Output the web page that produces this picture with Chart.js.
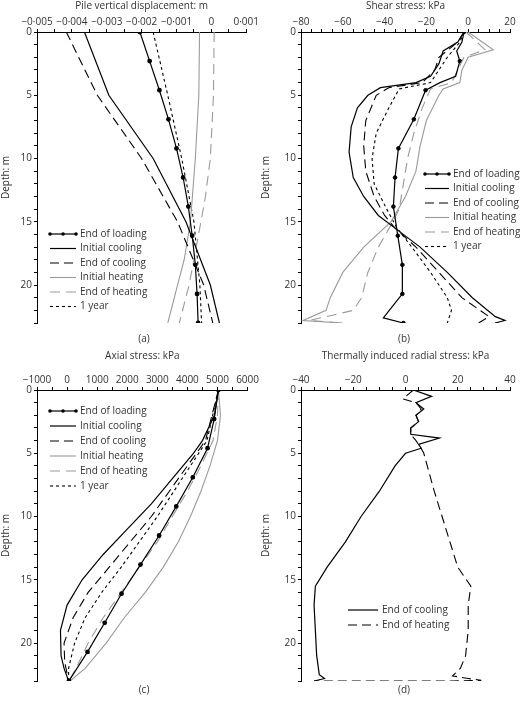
<!DOCTYPE html>
<html><head><meta charset="utf-8">
<script src="https://cdn.jsdelivr.net/npm/chart.js@4.4.1/dist/chart.umd.min.js"></script>
<style>
body{margin:0;background:#fff;width:520px;height:703px;position:relative;overflow:hidden}
.p{position:absolute;width:260px;height:350px}
</style></head><body>
<div class="p" style="left:0;top:0"><canvas id="ca"></canvas></div>
<div class="p" style="left:260px;top:0"><canvas id="cb"></canvas></div>
<div class="p" style="left:0;top:350px;height:353px"><canvas id="cc"></canvas></div>
<div class="p" style="left:260px;top:350px;height:353px"><canvas id="cd"></canvas></div>
<script>
// ---------- Data ----------
const seriesNames = ["End of loading","Initial cooling","End of cooling","Initial heating","End of heating","1 year"];
const markerDepths = [0,2.3,4.6,6.9,9.2,11.5,13.8,16.1,18.4,20.7,23];

// (a) Pile vertical displacement (m)
const aLoadX = [-0.00205,-0.00177,-0.00149,-0.00123,-0.00100,-0.00081,-0.00066,-0.00055,-0.00046,-0.00041,-0.00038];
const aCoolInitD = [0,5,10,15,20,23];
const aCoolInitX = [-0.00364,-0.00294,-0.00167,-0.00073,-0.00003,0.00023];
const aCoolEndD = [0,5,10,15,20,23];
const aCoolEndX = [-0.00416,-0.00327,-0.00200,-0.00097,-0.00022,0.00004];
const aHeatInitD = [0,5,10,15,18,20,23];
const aHeatInitX = [-0.00034,-0.00036,-0.00046,-0.00060,-0.00078,-0.00097,-0.00125];
const aHeatEndD = [0,5,10,13,15,18,20,23];
const aHeatEndX = [0.00008,0.00006,-0.00003,-0.00017,-0.00030,-0.00050,-0.00064,-0.00092];
const aYearD = [0,5,10,15,20,23];
const aYearX = [-0.00167,-0.00125,-0.00085,-0.00050,-0.00033,-0.00028];

// (b) Shear stress (kPa)
const bLoadD = [0,0.8,1.5,2.3,3.5,4.0,4.6,6.9,9.2,11.5,13.8,16.1,18.4,20.7,22.6,23];
const bLoadX = [-2,-3,-5.5,-4,-6,-13.5,-20.4,-26,-33.4,-35,-35.8,-33.7,-31.5,-31.5,-40.6,-31];
const bMarkX = [-2,-4,-20.4,-26,-33.4,-35,-35.8,-33.7,-31.5,-31.5,-31];
const bCoolInitD = [0,0.8,1.5,2.5,3.5,4.0,4.4,5,6,7.5,9.5,11.5,13,14.5,15.5,17,19,21,22.5,22.8,23];
const bCoolInitX = [-2,-5,-12,-14,-18,-25,-42,-48,-53,-56,-57,-55,-50,-43,-35,-23,-10,2,13,17.6,12.8];
const bCoolEndD = [0,0.8,2,3,4,4.4,5,7,9,11,13,14.5,15.5,17,19,21,22.5,23];
const bCoolEndX = [-2,-5,-14,-16,-22,-38,-44,-49,-50,-49,-45,-40,-35,-25,-14,-3,10,5];
const bYearD = [0,0.8,2,4,4.5,6,8,10,12,14,15.5,17,19,21,22,23];
const bYearX = [-2,-4,-10,-18,-33,-38,-44,-46,-45,-39,-34,-27,-18,-10,-8,-10];
const bHeatInitD = [0,1.4,2,3,4,4.5,5,7,9,11,13,15,17,19,21,22,22.8,23];
const bHeatInitX = [0,12,0,-3,-4,-12,-14,-20,-23,-25,-30,-37,-50,-60,-66,-68,-79,-60];
const bHeatEndD = [0,1.4,2,3,4,4.5,6,8,10,12,14,15,17,19,21,22,22.8,23];
const bHeatEndX = [-1,8,-2,-5,-8,-18,-22,-26,-29,-31,-33,-36,-43,-48,-51,-55,-76,-60];

// (c) Axial stress (kPa)
const cLoadX = [5030,4890,4670,4180,3630,3060,2440,1810,1250,680,60];
const cCoolInitD = [0,2,4,5,7,9,11,13,15,17,19,21,22,23];
const cCoolInitX = [5030,4900,4500,4200,3500,2800,2000,1200,500,0,-220,-200,-100,50];
const cCoolEndD = [0,4,6,8,10,12,14,16,18,20,21.5,23];
const cCoolEndX = [5030,4600,4000,3400,2800,2100,1400,700,200,-100,-80,50];
const cYearD = [0,4,6,8,10,12,14,16,18,20,22,23];
const cYearX = [5030,4650,4100,3550,3000,2400,1800,1150,600,250,50,50];
const cHeatInitD = [0,2,4,6,8,10,12,14,16,18,20,22,23];
const cHeatInitX = [5030,5100,5000,4750,4450,4100,3700,3200,2600,1900,1300,600,100];
const cHeatEndD = [0,2,4,6,8,10,12,14,16,18,20,22,23];
const cHeatEndX = [5030,5000,4850,4450,4000,3500,3000,2400,1800,1200,700,300,50];

// (d) Thermally induced radial stress (kPa)
const dNames = ["End of cooling","End of heating"];
const dCoolD = [0,0.5,1,1.5,2,2.5,3,3.5,3.8,4.3,4.6,5,6,8,10,12,14,15.5,17,19,21,22.5,22.8,23];
const dCoolX = [3,10,4,7,4,5,2,2,13,5,6,0,-4,-10,-17,-23,-30,-34.5,-35,-34.5,-34,-33,-31,-35];
const dHeatD = [0,0.7,1,1.5,2,2.5,3,3.5,4,4.6,5,8,10,12,14,15.5,17,19,21,22,22.6,22.8,22.95,23,23];
const dHeatX = [3,-1,4,6,4,5,2,2,4,6,7,11,14,17,20,25,24,24,23,21,18,24,29,18,-35];

// ---------- Helpers ----------
const pts=(d,x)=>d.map((v,i)=>({x:x[i],y:v}));
const BLK='#000', GRY='#9a9a9a';
const STY=[
 {c:BLK,dash:[],w:1.2,pr:1.8},
 {c:BLK,dash:[],w:1.2,pr:0},
 {c:BLK,dash:[9,5],w:1.1,pr:0},
 {c:GRY,dash:[],w:1.1,pr:0},
 {c:GRY,dash:[10,6],w:1.1,pr:0},
 {c:BLK,dash:[3,3],w:1.1,pr:0}];
function ds(name,data,s){return {label:name,data,showLine:true,borderColor:s.c,backgroundColor:s.c,borderWidth:s.w,borderDash:s.dash,pointRadius:s.pr,pointHoverRadius:0,tension:0};}
const FONT="'Open Sans', 'DejaVu Sans', sans-serif";
function fmt(v,dec){let s=Math.abs(v)<1e-12?'0':(dec?v.toFixed(dec):String(Math.round(v)));return s.replace('-','\u2212').replace('.','\u00b7');}

const legendPlugin={id:'lg',afterDraw(ch){
  const o=ch.options.plugins.lg; if(!o)return;
  const c=ch.ctx; c.save();
  c.font="10px "+FONT; c.textBaseline='middle';
  ch.data.datasets.filter(d=>d.label).forEach((d,i)=>{
    const y=o.y+i*o.dy;
    c.strokeStyle=d.borderColor;c.lineWidth=d.borderWidth;c.setLineDash(d.borderDash||[]);
    c.beginPath();c.moveTo(o.x,y);c.lineTo(o.x+o.len,y);c.stroke();
    c.setLineDash([]);
    if(o.marker&&i===0){c.fillStyle=d.borderColor;[0,0.5,1].forEach(f=>{c.beginPath();c.arc(o.x+f*o.len,y,1.8,0,7);c.fill();});}
    c.fillStyle='#333';c.fillText(d.label,o.x+o.len+4,y);
  });
  c.textAlign='center';c.fillStyle='#333';c.fillText(o.cap,o.capx,o.capy);
  c.restore();
}};

function make(id,datasets,xo,lg,yw,xh,pad){
  return new Chart(document.getElementById(id),{type:'scatter',data:{datasets},plugins:[legendPlugin],
   options:{responsive:true,maintainAspectRatio:false,animation:false,
    layout:{padding:pad},
    plugins:{legend:{display:false},tooltip:{enabled:false},lg},
    scales:{
     x:{type:'linear',position:'top',min:xo.min,max:xo.max,
        afterFit:s=>{s.height=xh;},
        afterBuildTicks:s=>{const t=[];for(let i=0;;i++){const v=xo.min+i*xo.minor;if(v>xo.max+1e-9)break;t.push({value:v});}s.ticks=t;},
        title:{display:true,text:xo.title,color:'#333',font:{family:FONT,size:10},padding:{top:0,bottom:1}},
        grid:{drawOnChartArea:false,drawTicks:true,tickLength:3,color:'#000'},
        border:{display:true,color:'#000',width:1},
        ticks:{autoSkip:false,maxRotation:0,color:'#333',font:{family:FONT,size:10},padding:1,
          callback:(v)=>{const k=Math.round((v-xo.min)/xo.minor);return k%xo.every===0?fmt(v,xo.dec):'';}}},
     y:{type:'linear',reverse:true,min:0,max:23,
        afterFit:s=>{s.width=yw;},
        afterBuildTicks:s=>{const t=[];for(let i=0;i<=23;i++)t.push({value:i});s.ticks=t;},
        title:{display:true,text:'Depth: m',color:'#333',font:{family:FONT,size:10},padding:0},
        grid:{drawOnChartArea:false,drawTicks:true,tickLength:3,color:'#000'},
        border:{display:true,color:'#000',width:1},
        ticks:{autoSkip:false,color:'#333',font:{family:FONT,size:10},padding:2,callback:v=>v%5===0?String(v):''}}
    }}});
}

// (a)
make('ca',[
 ds(seriesNames[0],pts(markerDepths,aLoadX),STY[0]),
 ds(seriesNames[1],pts(aCoolInitD,aCoolInitX),STY[1]),
 ds(seriesNames[2],pts(aCoolEndD,aCoolEndX),STY[2]),
 ds(seriesNames[3],pts(aHeatInitD,aHeatInitX),STY[3]),
 ds(seriesNames[4],pts(aHeatEndD,aHeatEndX),STY[4]),
 ds(seriesNames[5],pts(aYearD,aYearX),STY[5])],
 {min:-0.005,max:0.001,minor:0.0005,every:2,dec:3,title:'Pile vertical displacement: m'},
 {x:50,y:234,dy:14.5,len:26,marker:true,cap:'(a)',capx:144,capy:339},37,32,{left:0,right:10,top:0,bottom:27});
// (b)
make('cb',[
 ds(seriesNames[0],pts(bLoadD,bLoadX),{...STY[0],pr:0}),
 ds(seriesNames[1],pts(bCoolInitD,bCoolInitX),STY[1]),
 ds(seriesNames[2],pts(bCoolEndD,bCoolEndX),STY[2]),
 ds(seriesNames[3],pts(bHeatInitD,bHeatInitX),STY[3]),
 ds(seriesNames[4],pts(bHeatEndD,bHeatEndX),STY[4]),
 ds(seriesNames[5],pts(bYearD,bYearX),STY[5]),
 {label:'',data:pts(markerDepths,bMarkX),showLine:false,pointRadius:1.8,backgroundColor:BLK,borderColor:BLK,pointHoverRadius:0}],
 {min:-80,max:20,minor:5,every:4,dec:0,title:'Shear stress: kPa'},
 {x:165,y:174,dy:14.5,len:24,marker:true,cap:'(b)',capx:144,capy:339},41,32,{left:0,right:10,top:0,bottom:27});
// (c)
make('cc',[
 ds(seriesNames[0],pts(markerDepths,cLoadX),STY[0]),
 ds(seriesNames[1],pts(cCoolInitD,cCoolInitX),STY[1]),
 ds(seriesNames[2],pts(cCoolEndD,cCoolEndX),STY[2]),
 ds(seriesNames[3],pts(cHeatInitD,cHeatInitX),STY[3]),
 ds(seriesNames[4],pts(cHeatEndD,cHeatEndX),STY[4]),
 ds(seriesNames[5],pts(cYearD,cYearX),STY[5])],
 {min:-1000,max:6000,minor:500,every:2,dec:0,title:'Axial stress: kPa'},
 {x:50,y:61,dy:15,len:26,marker:true,cap:'(c)',capx:144,capy:340},37,40,{left:0,right:10,top:0,bottom:22});
// (d)
make('cd',[
 ds(dNames[0],pts(dCoolD,dCoolX),STY[1]),
 ds(dNames[1],pts(dHeatD,dHeatX),STY[2])],
 {min:-40,max:40,minor:5,every:4,dec:0,title:'Thermally induced radial stress: kPa'},
 {x:88,y:260,dy:15,len:30,marker:false,cap:'(d)',capx:144,capy:340},41,40,{left:0,right:10,top:0,bottom:22});
</script></body></html>
